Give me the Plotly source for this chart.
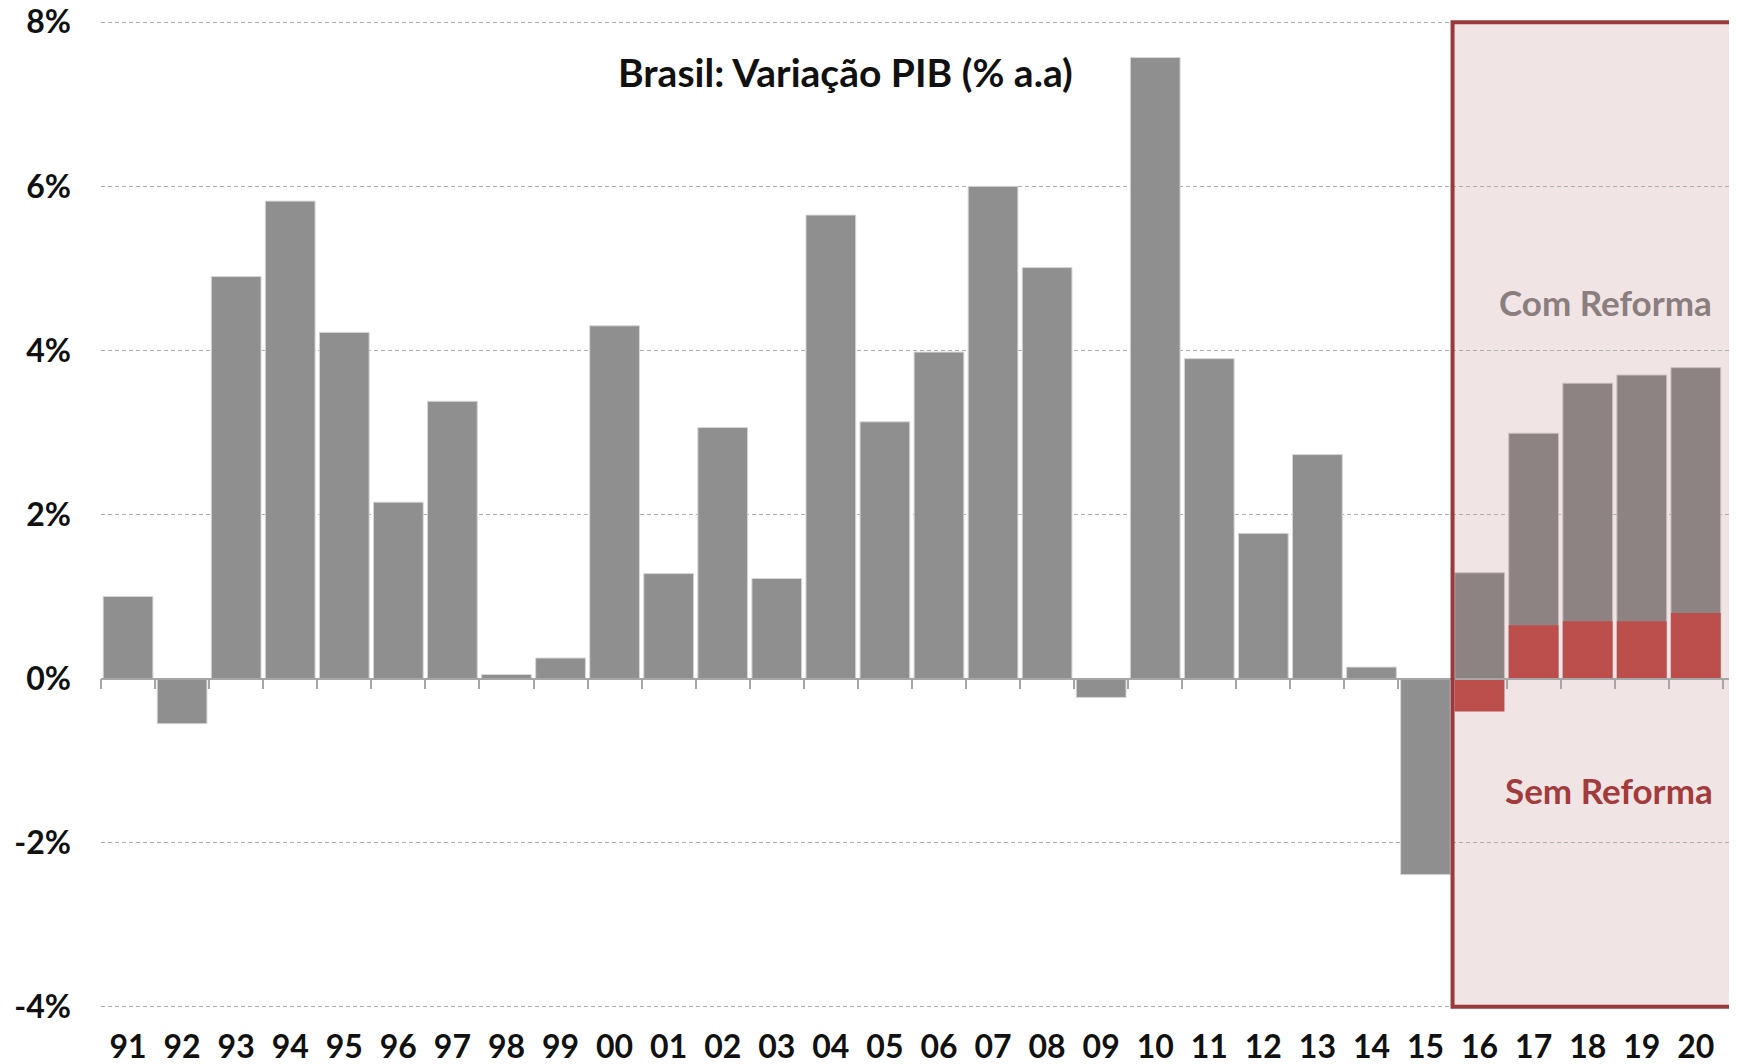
import plotly.graph_objects as go

# ---- data ----
hist_years = ["91", "92", "93", "94", "95", "96", "97", "98", "99", "00",
              "01", "02", "03", "04", "05", "06", "07", "08", "09", "10",
              "11", "12", "13", "14", "15"]
hist_gdp = [1.0, -0.55, 4.9, 5.82, 4.22, 2.15, 3.38, 0.05, 0.25, 4.3,
            1.28, 3.06, 1.22, 5.65, 3.13, 3.98, 6.0, 5.01, -0.23, 7.57,
            3.9, 1.77, 2.73, 0.14, -2.39]
proj_years = ["16", "17", "18", "19", "20"]
com_reforma = [1.29, 2.99, 3.6, 3.7, 3.79]
sem_reforma = [-0.4, 0.65, 0.7, 0.7, 0.8]
y_ticks = [-4, -2, 0, 2, 4, 6, 8]
y_tick_text = ["-4%", "-2%", "0%", "2%", "4%", "6%", "8%"]
title_text = "Brasil: Variação PIB (% a.a)"

all_years = hist_years + proj_years
ymin, ymax = y_ticks[0], y_ticks[-1]
pad = 0.04
FONT = "Lato"

fig = go.Figure()
fig.add_trace(go.Bar(x=hist_years, y=hist_gdp, marker=dict(color="#8F8F8F", line=dict(color="#D6D6D6", width=1)),
                     name="Histórico", hoverinfo="x+y"))
fig.add_trace(go.Bar(x=proj_years, y=com_reforma, marker=dict(color="#8E8383", line=dict(color="#C9BDBD", width=1)),
                     name="Com Reforma"))
fig.add_trace(go.Bar(x=proj_years, y=sem_reforma, marker=dict(color="#BC4E4C", line=dict(width=0)),
                     name="Sem Reforma"))
# invisible trace for the zero-line axis with ticks
fig.add_trace(go.Scatter(x=all_years, y=[0] * len(all_years), xaxis="x2", mode="markers",
                         marker=dict(opacity=0), hoverinfo="skip", showlegend=False))

n = len(all_years)
first_proj = len(hist_years)
x_range = [-0.5, n - 0.5 + 0.28]
# highlight region (background fill) and border
fig.add_shape(type="rect", xref="x", yref="y", x0=first_proj - 0.5, x1=n - 1 + 0.66,
              y0=ymin, y1=ymax, fillcolor="#F0E4E4", line=dict(width=0), layer="below")
fig.add_shape(type="rect", xref="x", yref="y", x0=first_proj - 0.5, x1=n - 1 + 0.66,
              y0=ymin, y1=ymax, fillcolor="rgba(0,0,0,0)", line=dict(color="#9B3A3A", width=4), layer="above")

fig.add_annotation(text=title_text, xref="x", yref="y", x=13.28, y=7.4, showarrow=False,
                   font=dict(family=FONT, size=39, color="#111111", weight="bold"), xanchor="center")
fig.add_annotation(text="Com Reforma", xref="x", yref="y", x=n - 1 + 0.34, y=4.59, showarrow=False,
                   font=dict(family=FONT, size=35, color="#8A7E7E", weight="bold"), xanchor="right")
fig.add_annotation(text="Sem Reforma", xref="x", yref="y", x=n - 1 + 0.36, y=-1.36, showarrow=False,
                   font=dict(family=FONT, size=35, color="#A23C3C", weight="bold"), xanchor="right")

fig.update_layout(
    width=1737, height=1064,
    margin=dict(l=93, r=7, t=11, b=62),
    paper_bgcolor="white", plot_bgcolor="rgba(0,0,0,0)",
    barmode="overlay", bargap=0.08, showlegend=False,
    font=dict(family=FONT, color="#111111"),
    xaxis=dict(type="category", categoryorder="array", categoryarray=all_years,
               showgrid=False, showline=False, ticks="", zeroline=False, automargin=False,
               ticklabelstandoff=15,
               tickfont=dict(family=FONT, size=32, color="#111111", weight="bold"),
               range=x_range),
    xaxis2=dict(type="category", categoryorder="array", categoryarray=all_years,
                overlaying="x", matches="x", anchor="free",
                position=(0 - ymin + pad) / (ymax - ymin + 2 * pad), side="bottom",
                showline=True, linecolor="#A6A6A6", linewidth=1.5,
                ticks="outside", ticklen=10, tickcolor="#A6A6A6", tickwidth=1.5,
                tickson="boundaries", showticklabels=False, showgrid=False, zeroline=False),
    yaxis=dict(range=[ymin - pad, ymax + pad], tickvals=y_ticks, ticktext=y_tick_text,
               showgrid=True, gridcolor="#ADADAD", griddash="4px,3px", gridwidth=1,
               zeroline=False, showline=False, ticks="", automargin=False,
               ticklabelstandoff=29, ticklabeloverflow="allow",
               tickfont=dict(family=FONT, size=32, color="#111111", weight="bold")),
)

fig.write_html("out.html")
